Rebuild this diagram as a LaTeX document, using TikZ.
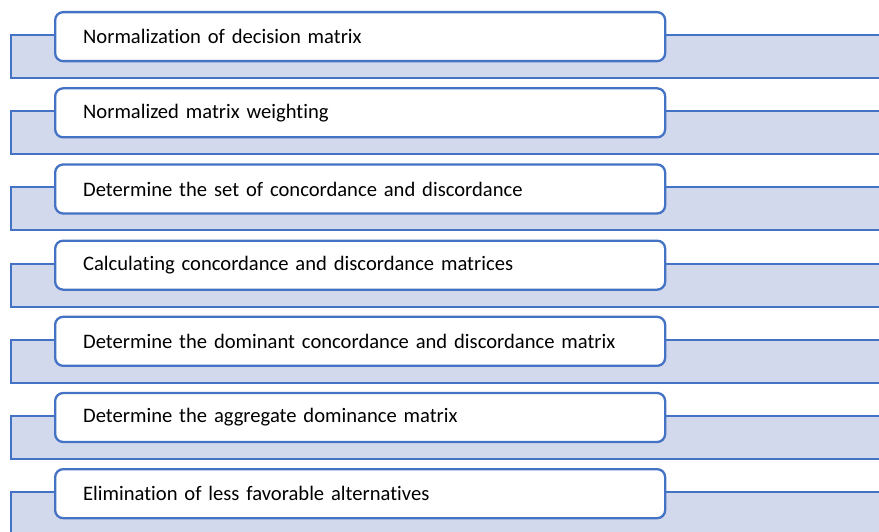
\documentclass[tikz,border=0pt]{standalone}
\usepackage{fontspec}
\setmainfont{Carlito}[RawFeature={-liga}]
\definecolor{accent}{HTML}{4472C4}
\definecolor{bandfill}{HTML}{D3D9EC}
\begin{document}
\begin{tikzpicture}[x=1pt,y=-1pt,
  band/.style={draw=accent, line width=2pt, fill=bandfill},
  stepbox/.style={draw=accent, line width=2.3pt, fill=white, rounded corners=8pt,
    anchor=north west, minimum height=49pt, inner xsep=28pt, inner ysep=0pt,
    text width=554pt, align=left, font=\fontsize{20.6}{24}\selectfont}]
  \useasboundingbox (0,0) rectangle (879,532);
  \clip (0,0) rectangle (879,532);
  \foreach \lbl [count=\i from 0] in {
    Normalization of decision matrix,
    Normalized matrix weighting,
    Determine the set of concordance and discordance,
    Calculating concordance and discordance matrices,
    Determine the dominant concordance and discordance matrix,
    Determine the aggregate dominance matrix,
    Elimination of less favorable alternatives} {
    \pgfmathsetmacro{\t}{11+76.17*\i}
    % background band behind each step
    \draw[band] (11,\t+24) rectangle (895,\t+67);
    % the step itself
    \node[stepbox] (s\i) at (54,\t) {\lbl};
  }
\end{tikzpicture}
\end{document}
